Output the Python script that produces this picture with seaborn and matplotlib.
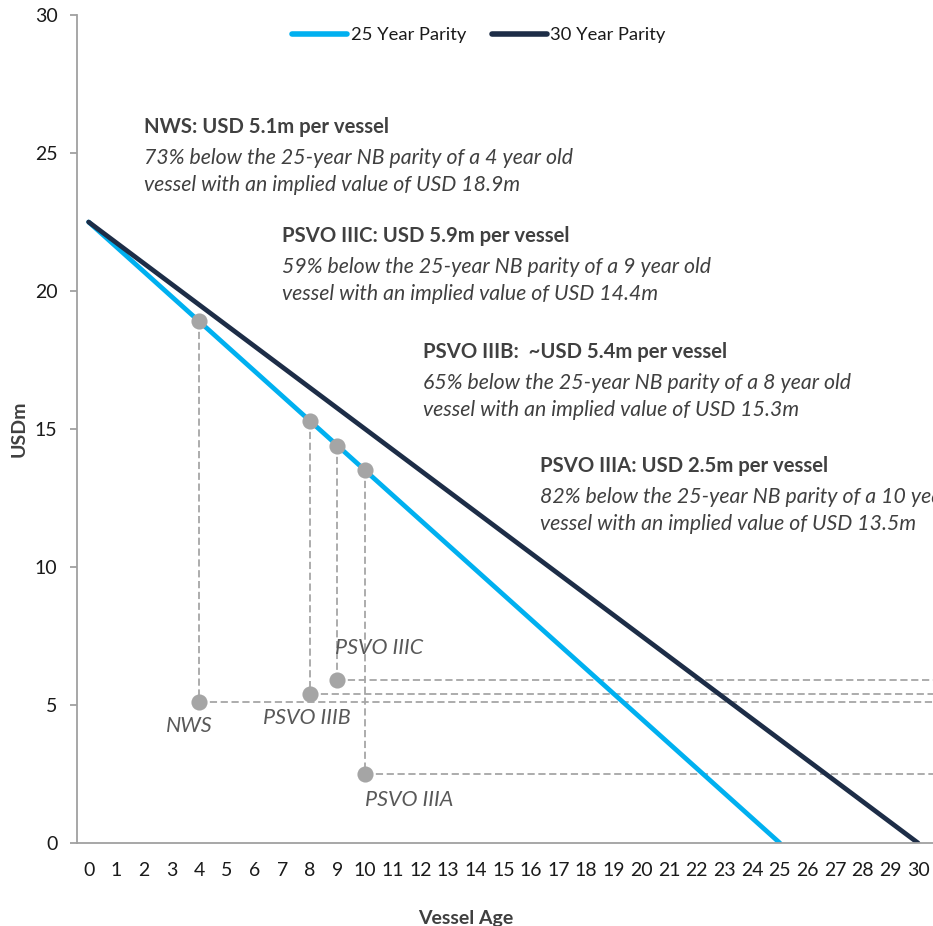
import matplotlib
matplotlib.use("Agg")
import matplotlib.pyplot as plt
import pandas as pd
import seaborn as sns

# Newbuild parity curves: straight-line depreciation to zero over the economic life
parity_names = ["25 Year Parity", "30 Year Parity"]
parity_start_age = [0, 0]
parity_start_value = [22.5, 22.5]
parity_end_age = [25, 30]
parity_end_value = [0.0, 0.0]

# Vessel classes: age, parity value on the 25-year curve, price paid (USDm)
vessel_names = ["NWS", "PSVO IIIB", "PSVO IIIC", "PSVO IIIA"]
vessel_ages = [4, 8, 9, 10]
parity_values = [18.9, 15.3, 14.4, 13.5]
price_values = [5.1, 5.4, 5.9, 2.5]
discount_pct = [73, 65, 59, 82]
price_separator = [" ", "  ~", " ", " "]

x_ticks = list(range(0, 31))
y_ticks = [0, 5, 10, 15, 20, 25, 30]

# ---- styling -------------------------------------------------------------
LIGHT_BLUE = "#00B0F0"
NAVY = "#1D2D47"
MARKER_GREY = "#A5A5A5"
DASH_GREY = "#A6A6A6"
TEXT_DARK = "#404040"
LABEL_GREY = "#595959"

sns.set_theme(style="white")
plt.rcParams["font.family"] = ["Lato", "DejaVu Sans"]

W, H = 933, 926
fig = plt.figure(figsize=(W / 100, H / 100), dpi=100)
ax = fig.add_axes([77 / W, 83 / H, 877 / W, 828 / H])

# ---- parity lines -----------------------------------------------------------
parity_df = pd.DataFrame({
    "age": parity_start_age + parity_end_age,
    "value": parity_start_value + parity_end_value,
    "curve": parity_names + parity_names,
})
sns.lineplot(data=parity_df, x="age", y="value", hue="curve",
             hue_order=parity_names, palette=[LIGHT_BLUE, NAVY],
             linewidth=3.4, solid_capstyle="round", ax=ax, legend=False)

vessel_df = pd.DataFrame({
    "name": vessel_names,
    "age": vessel_ages,
    "parity": parity_values,
    "price": price_values,
    "discount": discount_pct,
})

# ---- dashed connectors --------------------------------------------------------
dash = dict(color=DASH_GREY, lw=1.3, linestyle=(0, (4.0, 2.0)), zorder=1.5)
for _, r in vessel_df.iterrows():
    ax.plot([r.age, r.age], [r.parity, r.price], **dash)
    ax.plot([r.age, 40], [r.price, r.price], **dash)

# ---- markers ----------------------------------------------------------------
marker_kw = dict(color=MARKER_GREY, s=135, linewidth=0, zorder=4, legend=False)
sns.scatterplot(data=vessel_df, x="age", y="parity", ax=ax, **marker_kw)
sns.scatterplot(data=vessel_df, x="age", y="price", ax=ax, **marker_kw)

# labels next to the price markers (offsets in points)
label_offsets = {
    "NWS": (-7, -17),
    "PSVO IIIB": (-2, -17),
    "PSVO IIIC": (30, 23),
    "PSVO IIIA": (32, -19),
}
for _, r in vessel_df.iterrows():
    ax.annotate(r["name"], (r.age, r.price), xytext=label_offsets[r["name"]],
                textcoords="offset points", ha="center", va="center",
                fontsize=15.5, style="italic", color=LABEL_GREY)

# ---- commentary blocks --------------------------------------------------------
block_anchor = {
    "NWS": (2.02, 25.94),
    "PSVO IIIC": (6.99, 21.99),
    "PSVO IIIB": (12.1, 17.79),
    "PSVO IIIA": (16.31, 13.66),
}
for i, r in vessel_df.iterrows():
    bx, by = block_anchor[r["name"]]
    head = f"{r['name']}:{price_separator[i]}USD {r.price:.1f}m per vessel"
    line1 = (f"{r.discount}% below the 25-year NB parity of a "
             f"{r.age} year old")
    line2 = f"vessel with an implied value of USD {r.parity:.1f}m"
    ax.text(bx, by, head, ha="left", va="center", fontsize=14.6,
            fontweight="bold", color=TEXT_DARK)
    ax.annotate(line1, (bx, by), xytext=(0, -22.5), textcoords="offset points",
                ha="left", va="center", fontsize=15.3, style="italic",
                color=TEXT_DARK)
    ax.annotate(line2, (bx, by), xytext=(0, -41.5), textcoords="offset points",
                ha="left", va="center", fontsize=15.3, style="italic",
                color=TEXT_DARK)

# ---- axes ------------------------------------------------------------------
ax.set_xlim(-0.42, 31.3)
ax.set_ylim(0, 30)
ax.set_xticks(x_ticks)
ax.set_xticklabels([str(t) for t in x_ticks])
ax.set_yticks(y_ticks)
ax.set_yticklabels([str(t) for t in y_ticks])

for side in ("top", "right"):
    ax.spines[side].set_visible(False)
for side in ("left", "bottom"):
    ax.spines[side].set_color("#A0A0A0")
    ax.spines[side].set_linewidth(1.3)

ax.tick_params(axis="y", which="major", length=5, width=1.3, color="#A0A0A0",
               direction="out", left=True, pad=9, labelsize=14,
               labelcolor="#1A1A1A")
ax.tick_params(axis="x", which="major", length=0, pad=14, labelsize=14,
               labelcolor="#1A1A1A")

ax.set_xlabel("Vessel Age", fontsize=14, fontweight="bold", color=TEXT_DARK)
ax.xaxis.set_label_coords(0.4436, -0.081)
ax.set_ylabel("USDm", fontsize=14, fontweight="bold", color=TEXT_DARK,
              labelpad=5)

# ---- legend ----------------------------------------------------------------
handles = [plt.Line2D([], [], color=LIGHT_BLUE, lw=4, solid_capstyle="round"),
           plt.Line2D([], [], color=NAVY, lw=4, solid_capstyle="round")]
fig.legend(handles, parity_names, loc="center",
           bbox_to_anchor=(479 / W, 1 - 35 / H), ncol=2, frameon=False,
           fontsize=13.2, handlelength=3.0, handletextpad=0.2,
           columnspacing=1.4, labelcolor="#1A1A1A")

fig.savefig("out.png", dpi=100)
